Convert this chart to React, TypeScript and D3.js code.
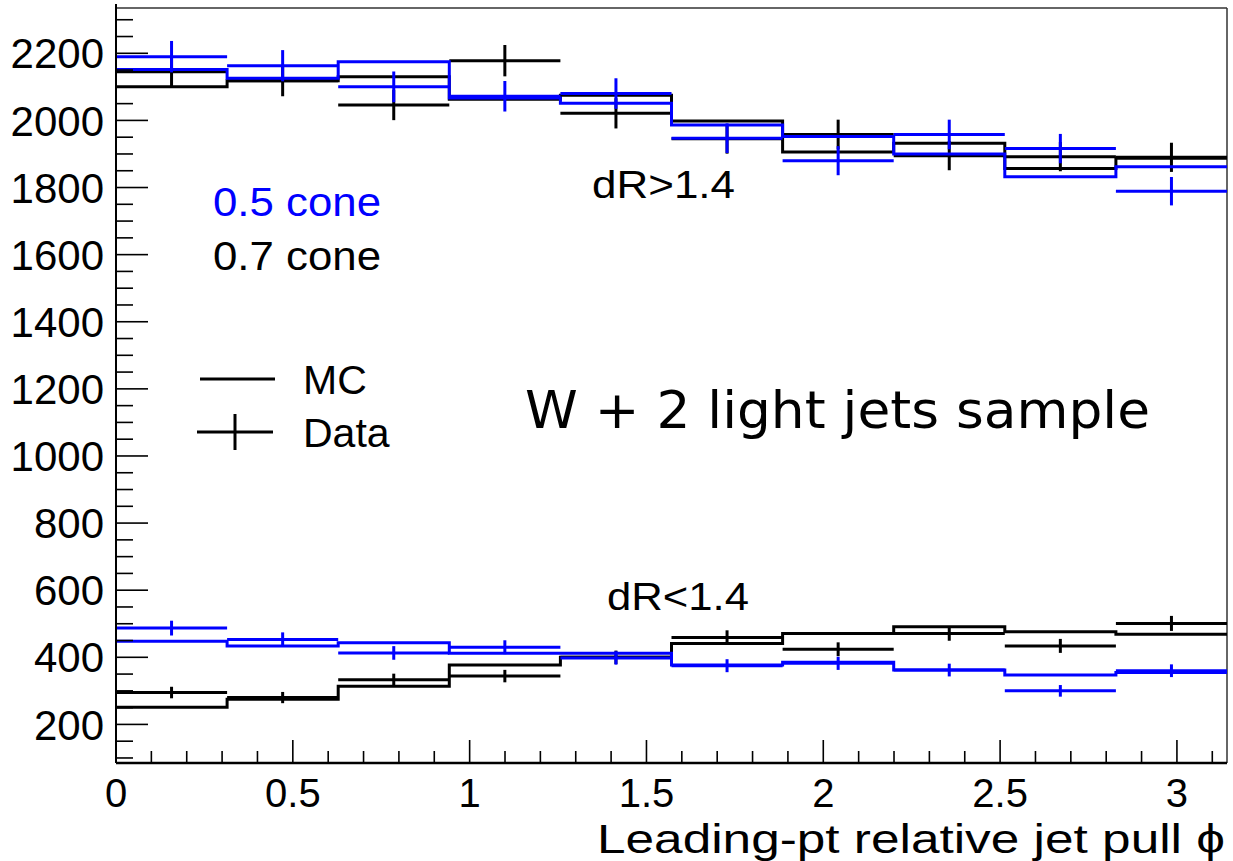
import React from "react";
import * as d3 from "d3";

// ---- data (10 bins over [0, pi]) ----
const nBins = 10;
const binEdges = d3.range(nBins + 1).map((i) => (i * Math.PI) / nBins);

// dR > 1.4 region
const mc05High = [2152, 2126, 2175, 2067, 2051, 1986, 1952, 1900, 1832, 1862];
const data05High = [2190, 2163, 2100, 2072, 2080, 1947, 1880, 1958, 1916, 1789];
const mc07High = [2100, 2118, 2130, 2063, 2075, 1998, 1906, 1932, 1857, 1887];
const data07High = [2145, 2118, 2046, 2178, 2021, 1945, 1958, 1895, 1892, 1890];

// dR < 1.4 region
const mc05Low = [448, 434, 443, 412, 412, 377, 385, 362, 347, 355];
const data05Low = [487, 453, 413, 430, 398, 375, 382, 362, 300, 360];
const mc07Low = [251, 275, 314, 377, 400, 441, 471, 491, 476, 469];
const data07Low = [295, 280, 333, 344, 400, 459, 424, 471, 434, 501];

const yTicks = [200, 400, 600, 800, 1000, 1200, 1400, 1600, 1800, 2000, 2200];
const xTicks = [0, 0.5, 1, 1.5, 2, 2.5, 3];

const W = 1233;
const H = 861;
const L = 116, R = 1227, T = 8, B = 763;

const x = d3.scaleLinear().domain([0, Math.PI]).range([L, R]);
const y = d3.scaleLinear().domain([85, 2335]).range([B, T]);

const BLUE = "#0000ff";
const BLACK = "#000000";
const LW = 3;
const FONT = "'Liberation Sans', Arial, Helvetica, sans-serif";

function stepPath(vals: number[]) {
  const pts: [number, number][] = vals.map((v, i) => [binEdges[i], v]);
  pts.push([binEdges[nBins], vals[nBins - 1]]);
  const line = d3
    .line<[number, number]>()
    .x((d) => x(d[0]))
    .y((d) => y(d[1]))
    .curve(d3.curveStepAfter);
  return line(pts) || "";
}

function Hist({ vals, color }: { vals: number[]; color: string }) {
  return <path d={stepPath(vals)} fill="none" stroke={color} strokeWidth={LW} />;
}

function DataPts({ vals, color }: { vals: number[]; color: string }) {
  return (
    <g stroke={color} strokeWidth={LW}>
      {vals.map((v, i) => {
        const c = (binEdges[i] + binEdges[i + 1]) / 2;
        const e = Math.sqrt(v);
        return (
          <g key={i}>
            <line x1={x(binEdges[i])} x2={x(binEdges[i + 1])} y1={y(v)} y2={y(v)} />
            <line x1={x(c)} x2={x(c)} y1={y(v - e)} y2={y(v + e)} />
          </g>
        );
      })}
    </g>
  );
}

export default function App() {
  const yMinor = d3.range(100, 2335, 50);
  const xMinor = d3.range(0, Math.PI, 0.1);
  return (
    <svg
      width={W}
      height={H}
      style={{ position: "absolute", left: 0, top: 0, background: "#fff" }}
      fontFamily={FONT}
    >
      <rect x={0} y={0} width={W} height={H} fill="#fff" />
      {/* frame */}
      <line x1={L} x2={R} y1={T} y2={T} stroke="#333" strokeWidth={1.5} />
      <line x1={R} x2={R} y1={T} y2={B} stroke="#333" strokeWidth={1.5} />

      {/* histograms */}
      <Hist vals={mc07High} color={BLACK} />
      <Hist vals={mc07Low} color={BLACK} />
      <DataPts vals={data07High} color={BLACK} />
      <DataPts vals={data07Low} color={BLACK} />
      <Hist vals={mc05High} color={BLUE} />
      <Hist vals={mc05Low} color={BLUE} />
      <DataPts vals={data05High} color={BLUE} />
      <DataPts vals={data05Low} color={BLUE} />

      {/* y axis */}
      <line x1={L} x2={L} y1={T - 4} y2={B} stroke="#000" strokeWidth={2} />
      {yMinor.map((v) => {
        const major = v % 200 === 0;
        return (
          <line key={v} x1={L} x2={L + (major ? 32 : 17)} y1={y(v)} y2={y(v)} stroke="#000" strokeWidth={1.6} />
        );
      })}
      {yTicks.map((v) => (
        <text key={v} x={104} y={y(v)} dy="0.36em" textAnchor="end" fontSize={42} fill="#000">
          {v}
        </text>
      ))}

      {/* x axis */}
      <line x1={L} x2={R} y1={B} y2={B} stroke="#000" strokeWidth={2.5} />
      {xMinor.map((v, i) => {
        const major = i % 5 === 0;
        return (
          <line key={i} x1={x(v)} x2={x(v)} y1={B} y2={B - (major ? 23 : 12)} stroke="#000" strokeWidth={1.6} />
        );
      })}
      {xTicks.map((v) => (
        <text key={v} x={x(v)} y={807} textAnchor="middle" fontSize={40} fill="#000">
          {v}
        </text>
      ))}
      <text x={1225} y={853} textAnchor="end" fontSize={40} fill="#000" textLength={628} lengthAdjust="spacingAndGlyphs">
        Leading-pt relative jet pull ϕ
      </text>

      {/* annotations */}
      <text x={213} y={216} fontSize={40} fill={BLUE} textLength={168} lengthAdjust="spacingAndGlyphs">0.5 cone</text>
      <text x={213} y={270} fontSize={40} fill={BLACK} textLength={168} lengthAdjust="spacingAndGlyphs">0.7 cone</text>
      <text x={592} y={198} fontSize={38} fill={BLACK} textLength={143} lengthAdjust="spacingAndGlyphs">dR&gt;1.4</text>
      <text x={607} y={610} fontSize={38} fill={BLACK} textLength={142} lengthAdjust="spacingAndGlyphs">dR&lt;1.4</text>

      {/* legend */}
      <line x1={200} x2={275} y1={379} y2={379} stroke={BLACK} strokeWidth={LW} />
      <text x={303} y={394} fontSize={41} fill={BLACK}>MC</text>
      <line x1={197} x2={273} y1={432} y2={432} stroke={BLACK} strokeWidth={LW} />
      <line x1={235} x2={235} y1={414} y2={450} stroke={BLACK} strokeWidth={LW} />
      <text x={303} y={447} fontSize={41} fill={BLACK}>Data</text>

      <text x={525} y={428} fontSize={52} fill={BLACK} fontFamily="'Comic Sans MS', 'DejaVu Sans', sans-serif" textLength={625} lengthAdjust="spacingAndGlyphs">
        W + 2 light jets sample
      </text>
    </svg>
  );
}
